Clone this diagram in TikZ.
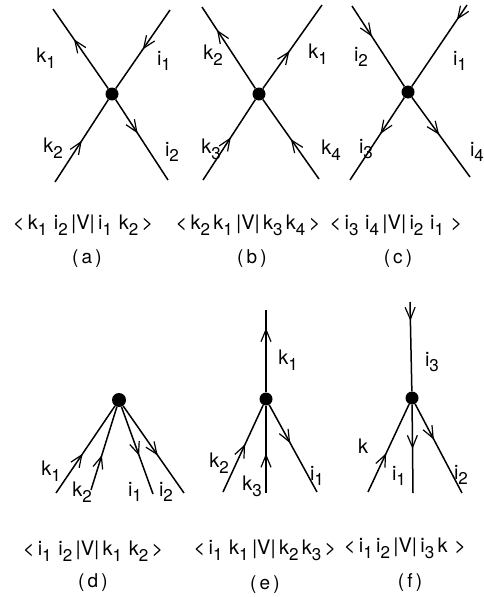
\documentclass[tikz,border=0pt]{standalone}
\usepackage{fontspec}
\setmainfont{TeX Gyre Heros}
\usetikzlibrary{arrows.meta,decorations.markings}
\newcommand\lbsub[1]{\raisebox{-0.55ex}{\scalebox{0.85}{#1}}}
\tikzset{
  edge/.style={line width=1.5pt},
  vtx/.style={circle,fill,inner sep=0pt,minimum size=13pt},
  fwd/.style={postaction={decorate},decoration={markings,mark=at position #1 with {\arrow{Straight Barb[length=12pt,width=10pt,line width=1.2pt]}}}},
  bwd/.style={postaction={decorate},decoration={markings,mark=at position #1 with {\arrowreversed{Straight Barb[length=12pt,width=10pt,line width=1.2pt]}}}},
  lbl/.style={font=\fontsize{20}{20}\selectfont, inner sep=0pt},
  braket/.style={font=\fontsize{20}{20}\selectfont, inner sep=0pt},
  capt/.style={font=\fontsize{19}{19}\selectfont, inner sep=0pt},
}
\begin{document}
\begin{tikzpicture}[x=1pt,y=-1pt]
\useasboundingbox (0,0) rectangle (483,597);
% (a)
\node[vtx] (va) at (112,94) {};
\coordinate (a1) at (53,9);
\coordinate (a2) at (170,10);
\coordinate (a3) at (55,182);
\coordinate (a4) at (168,180);
\draw[edge,fwd=0.62] (va) -- (a1);
\draw[edge,bwd=0.5] (va) -- (a2);
\draw[edge,bwd=0.5] (va) -- (a3);
\draw[edge,fwd=0.42] (va) -- (a4);
\node[lbl] (la1) at (46,58) {k\lbsub{1}};
\node[lbl] (la2) at (164,61) {i\lbsub{1}};
\node[lbl] (la3) at (53,148) {k\lbsub{2}};
\node[lbl] (la4) at (172,152) {i\lbsub{2}};
\node[braket] (ba) at (83,225) {<\,k\lbsub{1}\,\,i\lbsub{2}\,|V|\,i\lbsub{1}\,\,k\lbsub{2}\,>};
\node[capt] (ca) at (87,259) {(\,a\,)};
% (b)
\node[vtx] (vb) at (259,94) {};
\coordinate (b1) at (202,7);
\coordinate (b2) at (322,5);
\coordinate (b3) at (203,180);
\coordinate (b4) at (319,179);
\draw[edge,fwd=0.72] (vb) -- (b1);
\draw[edge,fwd=0.45] (vb) -- (b2);
\draw[edge,bwd=0.47] (vb) -- (b3);
\draw[edge,bwd=0.5] (vb) -- (b4);
\node[lbl] (lb1) at (213,55) {k\lbsub{2}};
\node[lbl] (lb2) at (318,54) {k\lbsub{1}};
\node[lbl] (lb3) at (211,149) {k\lbsub{3}};
\node[lbl] (lb4) at (331,150) {k\lbsub{4}};
\node[braket] (bb) at (248,225) {<\,k\lbsub{2}\,k\lbsub{1}\,|V|\,k\lbsub{3}\,k\lbsub{4}\,>};
\node[capt] (cb) at (252,259) {(\,b\,)};
% (c)
\node[vtx] (vc) at (408,92) {};
\coordinate (c1) at (352,6);
\coordinate (c2) at (467,5);
\coordinate (c3) at (350,180);
\coordinate (c4) at (470,177);
\draw[edge,bwd=0.62] (vc) -- (c1);
\draw[edge,bwd=0.82] (vc) -- (c2);
\draw[edge,fwd=0.44] (vc) -- (c3);
\draw[edge,fwd=0.47] (vc) -- (c4);
\node[lbl] (lc1) at (361,57) {i\lbsub{2}};
\node[lbl] (lc2) at (460,61) {i\lbsub{1}};
\node[lbl] (lc3) at (366,149) {i\lbsub{3}};
\node[lbl] (lc4) at (477,152) {i\lbsub{4}};
\node[braket] (bc) at (396,225) {<\,i\lbsub{3}\,\,i\lbsub{4}\,|V|\,i\lbsub{2}\,\,i\lbsub{1}\,\,>};
\node[capt] (cc) at (398,259) {(\,c\,)};
% (d)
\node[vtx,minimum size=14pt] (vd) at (119,400) {};
\coordinate (d1) at (56,493);
\coordinate (d2) at (91,490);
\coordinate (d3) at (153,494);
\coordinate (d4) at (184,493);
\draw[edge,bwd=0.55] (vd) -- (d1);
\draw[edge,bwd=0.58] (vd) -- (d2);
\draw[edge,fwd=0.56] (vd) -- (d3);
\draw[edge,fwd=0.57] (vd) -- (d4);
\node[lbl] (ld1) at (51,471) {k\lbsub{1}};
\node[lbl] (ld2) at (82,492) {k\lbsub{2}};
\node[lbl] (ld3) at (135,492) {i\lbsub{1}};
\node[lbl] (ld4) at (166,492) {i\lbsub{2}};
\node[braket] (bd) at (93,551) {<\,i\lbsub{1}\,\,i\lbsub{2}\,|V|\,k\lbsub{1}\,\,k\lbsub{2}\,>};
\node[capt] (cd) at (93,583) {(\,d\,)};
% (e)
\node[vtx] (ve) at (266,399) {};
\coordinate (e0) at (266,310);
\coordinate (e1) at (223,492);
\coordinate (e2) at (266,493);
\coordinate (e3) at (317,492);
\draw[edge,fwd=0.78] (ve) -- (e0);
\draw[edge,bwd=0.45] (ve) -- (e1);
\draw[edge,bwd=0.55] (ve) -- (e2);
\draw[edge,fwd=0.44] (ve) -- (e3);
\node[lbl] (le0) at (288,360) {k\lbsub{1}};
\node[lbl] (le1) at (219,463) {k\lbsub{2}};
\node[lbl] (le2) at (252,486) {k\lbsub{3}};
\node[lbl] (le3) at (317,476) {i\lbsub{1}};
\node[braket] (be) at (265,550) {<\,i\lbsub{1}\,\,k\lbsub{1}\,|V|\,k\lbsub{2}\,k\lbsub{3}\,>};
\node[capt] (ce) at (265,585) {(\,e\,)};
% (f)
\node[vtx] (vf) at (412,398) {};
\coordinate (f0) at (410,302);
\coordinate (f1) at (368,492);
\coordinate (f2) at (413,493);
\coordinate (f3) at (462,493);
\draw[edge,bwd=0.79] (vf) -- (f0);
\draw[edge,bwd=0.56] (vf) -- (f1);
\draw[edge,fwd=0.5] (vf) -- (f2);
\draw[edge,fwd=0.4] (vf) -- (f3);
\node[lbl] (lf0) at (432,362) {i\lbsub{3}};
\node[lbl] (lf1) at (363,446) {k};
\node[lbl] (lf2) at (399,476) {i\lbsub{1}};
\node[lbl] (lf3) at (461,475) {i\lbsub{2}};
\node[braket] (bf) at (405,548) {<\,i\lbsub{1}\,i\lbsub{2}\,|V|\,i\lbsub{3}\,k\,\,>};
\node[capt] (cf) at (410,583) {(\,f\,)};
\end{tikzpicture}
\end{document}
